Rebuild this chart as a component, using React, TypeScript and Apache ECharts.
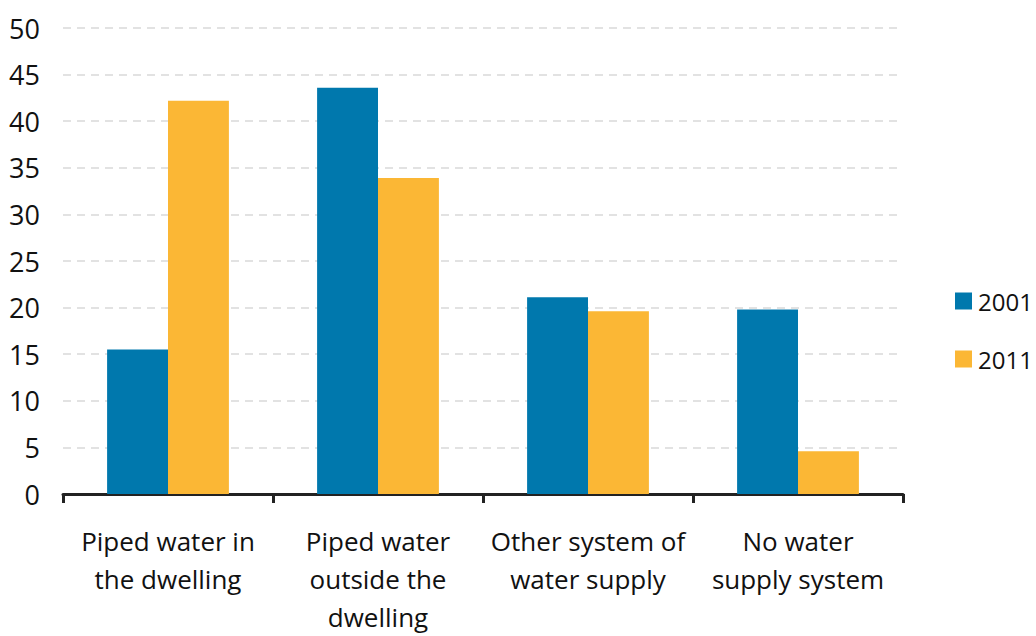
import React, { useEffect, useRef } from "react";
import * as echarts from "echarts";

const categories = [
  "Piped water in\nthe dwelling",
  "Piped water\noutside the\ndwelling",
  "Other system of\nwater supply",
  "No water\nsupply system",
];
const seriesNames = ["2001", "2011"];
const values2001 = [15.5, 43.6, 21.1, 19.8];
const values2011 = [42.2, 33.9, 19.6, 4.6];
const colors = ["#0078AD", "#FBB735"];

const FONT = "'Open Sans', Lato, sans-serif";

export default function App() {
  const ref = useRef<HTMLDivElement>(null);
  useEffect(() => {
    if (!ref.current) return;
    const chart = echarts.init(ref.current, undefined, { renderer: "svg" });
    chart.setOption({
      animation: false,
      textStyle: { fontFamily: FONT, color: "#111" },
      grid: { left: 63, width: 840, top: 28, height: 472, containLabel: false },
      legend: {
        orient: "vertical",
        left: 955,
        top: 289,
        icon: "rect",
        itemWidth: 17,
        itemHeight: 17,
        itemGap: 34,
        padding: 0,
        itemStyle: { borderWidth: 0 },
        textStyle: { fontSize: 24, lineHeight: 17, fontFamily: FONT, color: "#111", padding: [0, 0, 0, 1] },
        data: seriesNames,
      },
      xAxis: {
        type: "category",
        data: categories,
        axisLine: { lineStyle: { color: "#222", width: 3 } },
        axisTick: { show: true, alignWithLabel: false, length: 9, lineStyle: { color: "#222", width: 3 } },
        axisLabel: {
          fontSize: 26,
          fontFamily: FONT,
          color: "#111",
          lineHeight: 38,
          margin: 28,
          interval: 0,
        },
      },
      yAxis: {
        type: "value",
        min: 0,
        max: 50,
        interval: 5,
        axisLine: { show: false },
        axisTick: { show: false },
        axisLabel: { fontSize: 27, fontFamily: FONT, color: "#111", margin: 23 },
        splitLine: { lineStyle: { color: "#d9d9d9", type: [8, 6], width: 1.5 } },
      },
      series: [
        {
          name: seriesNames[0],
          type: "bar",
          data: values2001,
          itemStyle: { color: colors[0] },
          barGap: "0%",
          barCategoryGap: "42%",
        },
        {
          name: seriesNames[1],
          type: "bar",
          data: values2011,
          itemStyle: { color: colors[1] },
          barGap: "0%",
          barCategoryGap: "42%",
        },
      ],
    });
    return () => chart.dispose();
  }, []);
  return <div ref={ref} style={{ width: 1036, height: 636, position: "absolute", left: 0, top: 0 }} />;
}
